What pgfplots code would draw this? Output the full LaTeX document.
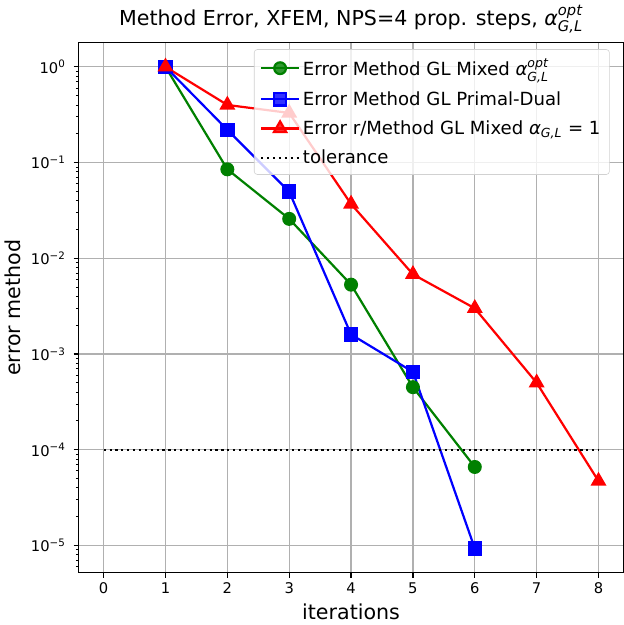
\documentclass[border=0pt]{standalone}
\usepackage{pgfplots}
\pgfplotsset{compat=1.18}
\usepackage{fontspec}
\setmainfont{DejaVu Sans}

% alpha with stacked super/subscript, size of the small part as argument
\newcommand{\sm}[2]{\mbox{\fontsize{#1}{#1}\selectfont\itshape #2}}
\newcommand{\aopt}[1]{$\mbox{\itshape α}^{\sm{#1}{opt}}_{\sm{#1}{G,L}}$}
\newcommand{\agl}[1]{$\mbox{\itshape α}_{\sm{#1}{G,L}}$}

\definecolor{mplgreen}{RGB}{0,128,0}

\begin{document}
\begin{tikzpicture}
\begin{axis}[
    width=370pt, height=360pt,
    scale only axis,
    ymode=log,
    xmin=-0.4, xmax=8.4,
    ymin=5.2e-6, ymax=1.78,
    xtick={0,1,2,3,4,5,6,7,8},
    ytick={1e-5,1e-4,1e-3,1e-2,1e-1,1},
    yticklabels={10\textsuperscript{−5},10\textsuperscript{−4},10\textsuperscript{−3},10\textsuperscript{−2},10\textsuperscript{−1},10\textsuperscript{0}},
    minor ytick={6e-6,7e-6,8e-6,9e-6,
        2e-5,3e-5,4e-5,5e-5,6e-5,7e-5,8e-5,9e-5,
        2e-4,3e-4,4e-4,5e-4,6e-4,7e-4,8e-4,9e-4,
        2e-3,3e-3,4e-3,5e-3,6e-3,7e-3,8e-3,9e-3,
        2e-2,3e-2,4e-2,5e-2,6e-2,7e-2,8e-2,9e-2,
        0.2,0.3,0.4,0.5,0.6,0.7,0.8,0.9},
    /pgf/number format/assume math mode=true,
    tick pos=left,
    tick align=outside,
    major tick length=3.5pt,
    minor tick length=2pt,
    every tick/.style={black, line width=0.8pt},
    every minor tick/.style={black, line width=0.6pt},
    ticklabel style={font=\fontsize{10}{12}\selectfont},
    yticklabel style={xshift=-2pt},
    grid=major,
    major grid style={color=black!31, line width=0.8pt},
    axis line style={line width=0.8pt},
    xlabel={iterations},
    ylabel={error method},
    label style={font=\fontsize{14}{17}\selectfont},
    title={Method Error, XFEM, NPS=4 prop. steps, \aopt{10}},
    title style={font=\fontsize{14}{17}\selectfont, yshift=-3pt},
    legend cell align=left,
    legend style={
        at={(0.975,0.988)}, anchor=north east,
        font=\fontsize{12.3}{14}\selectfont,
        fill=white, fill opacity=0.8, text opacity=1,
        draw=black!18, rounded corners=2pt,
        row sep=5pt, inner sep=4pt,
    },
    legend image code/.code={
        \draw[mark repeat=2, mark phase=2, #1]
            plot coordinates {(0cm,0cm) (0.45cm,0cm) (0.9cm,0cm)};
    },
]
\addplot[color=mplgreen, line width=1.5pt, mark=*, mark size=4pt, mark options={solid}] coordinates {
    (1, 1) (2, 0.085) (3, 0.0258) (4, 0.0053) (5, 4.5e-4) (6, 6.6e-5)
};
\addlegendentry{Error Method GL Mixed \aopt{8.5}}
\addplot[color=blue, line width=1.5pt, mark=square*, mark size=4.2pt, mark options={solid}] coordinates {
    (1, 1) (2, 0.22) (3, 0.0496) (4, 0.0016) (5, 6.5e-4) (6, 9.3e-6)
};
\addlegendentry{Error Method GL Primal-Dual}
\addplot[color=red, line width=1.5pt, mark=triangle*, mark size=4.8pt, mark options={solid}] coordinates {
    (1, 1) (2, 0.40) (3, 0.33) (4, 0.0369) (5, 0.0068) (6, 0.0030) (7, 5.0e-4) (8, 4.7e-5)
};
\addlegendentry{Error r/Method GL Mixed \agl{8.5} = 1}
\addplot[color=black, line width=1.5pt, dash pattern=on 1.5pt off 2.5pt] coordinates {
    (0, 1e-4) (8, 1e-4)
};
\addlegendentry{tolerance}
\end{axis}
\end{tikzpicture}
\end{document}
